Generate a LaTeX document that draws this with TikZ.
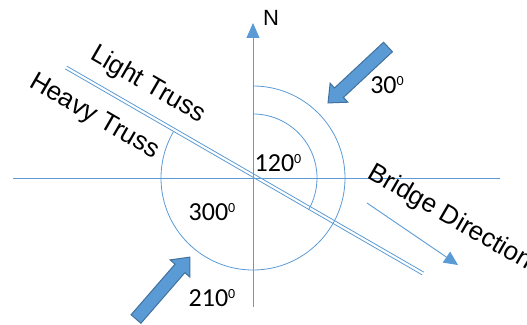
\documentclass[tikz,border=0pt]{standalone}
\usepackage{fontspec}
\setmainfont{Liberation Sans}
\newfontfamily\labfont{Liberation Sans}
\newfontfamily\numfont{Carlito}
\usetikzlibrary{arrows.meta}
\definecolor{lb}{HTML}{5B9BD5}
\definecolor{db}{HTML}{41719C}
\newcommand{\dgsup}{\raisebox{7.5pt}{\fontsize{14}{14}\selectfont 0}}
\begin{document}
\begin{tikzpicture}[x=1pt,y=1pt,
  thinline/.style={draw=lb, line width=0.9pt},
  lbl/.style={font=\labfont\fontsize{26}{26}\selectfont, inner sep=0pt, rotate=-30},
  num/.style={font=\numfont\fontsize{26}{26}\selectfont, inner sep=0pt},
  blockarrow/.pic={\draw[fill=lb, draw=db, line width=1pt, line join=miter]
     (0,6.5) -- (67,6.5) -- (67,13) -- (82,0) -- (67,-13) -- (67,-6.5) -- (0,-6.5) -- cycle;}]
\useasboundingbox (-253,-146) rectangle (274,178);
\coordinate (C) at (0,0);
\coordinate (W) at (-240,0);
\coordinate (E) at (247,0);
\coordinate (S) at (0,-129);
\coordinate (Ntop) at (0,155);
\draw[thinline] (W) -- (E);
\draw[thinline, -{Triangle[length=15pt,width=13pt]}] (S) -- (Ntop);
\node[font=\labfont\fontsize{22}{22}\selectfont, inner sep=0pt] (N) at (18,160) {N};
% truss double line
\coordinate (T1) at (-187,110.5);
\coordinate (T2) at (170,-95.5);
\draw[thinline, line width=0.8pt] ([shift={(0.8,1.39)}]T1) -- ([shift={(0.8,1.39)}]T2);
\draw[thinline, line width=0.8pt] ([shift={(-0.8,-1.39)}]T1) -- ([shift={(-0.8,-1.39)}]T2);
% arcs
\draw[thinline, line width=0.8pt] (C) ++(90:92) arc[start angle=90, end angle=-210, radius=92];
\draw[thinline, line width=0.8pt] (C) ++(90:64) arc[start angle=90, end angle=-30, radius=64];
% block arrows
\pic[rotate=223] at (135,131) {blockarrow};
\pic[rotate=49] at (-117,-141) {blockarrow};
% bridge direction arrow
\coordinate (B1) at (114,-25);
\coordinate (B2) at (205,-87);
\draw[thinline, -{Triangle[length=14pt,width=13pt]}] (B1) -- (B2);
% labels
\node[num] (a120) at (25,15) {120\dgsup};
\node[num] (a300) at (-41,-34) {300\dgsup};
\node[num] (a210) at (-41,-120) {210\dgsup};
\node[num] (a30) at (134,93) {30\dgsup};
\node[lbl] (lt) at (-105,93) {Light Truss};
\node[lbl] (ht) at (-159,61) {Heavy Truss};
\node[lbl] (bd) at (197,-40) {Bridge Direction};
\end{tikzpicture}
\end{document}
